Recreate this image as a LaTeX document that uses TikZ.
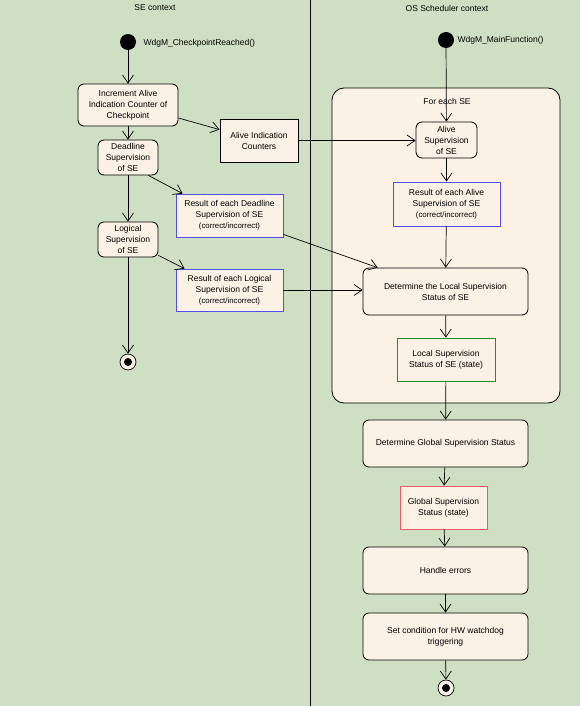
\documentclass[tikz,border=0pt]{standalone}
\usepackage{fontspec}
\setmainfont{Liberation Sans}
\usepackage{tikz}
\usetikzlibrary{arrows.meta}

\definecolor{lanegreen}{RGB}{207,223,196}
\definecolor{cream}{RGB}{251,241,228}
\definecolor{resblue}{RGB}{80,80,240}
\definecolor{stgreen}{RGB}{40,140,40}
\definecolor{stred}{RGB}{240,90,90}

\tikzset{
    action/.style={draw, line width=0.8pt, fill=cream, rounded corners=6pt, align=center, inner sep=1pt},
    datum/.style={draw, line width=0.8pt, fill=cream, align=center, inner sep=1pt},
    initial/.style={circle, fill=black, inner sep=0pt, minimum size=16pt},
    final/.style={circle, draw, line width=0.7pt, fill=cream, inner sep=0pt, minimum size=16pt,
        path picture={\fill[black] (path picture bounding box.center) circle (4pt);}},
    flow/.style={-{Straight Barb[length=8pt,width=11pt]}, line width=0.7pt}
}

\begin{document}
\begin{tikzpicture}[x=1pt, y=-1pt, font=\fontsize{8.5}{11}\selectfont]
        \fill[lanegreen] (0,0) rectangle (580,706);
        \useasboundingbox (0,0) rectangle (580,706);
        \draw[line width=0.8pt] (310,0) -- (310,706);

        \node (lse) at (155,8) {SE context};
        \node (los) at (447,8) {OS Scheduler context};

        % SE context
        \node[initial] (s1) at (128,42) {};
        \node[anchor=west] (s1lab) at (140,43) {WdgM\_CheckpointReached()};
        \node[action, minimum width=100pt, minimum height=42pt] (inc) at (128,105) {Increment Alive\\Indication Counter of\\Checkpoint};
        \node[action, minimum width=60pt, minimum height=35pt] (dl) at (128,157.5) {Deadline\\Supervision\\of SE};
        \node[action, minimum width=60pt, minimum height=35pt] (lg) at (128,239.5) {Logical\\Supervision\\of SE};
        \node[final] (f1) at (128,362) {};
        \node[datum, minimum width=78pt, minimum height=43pt] (cnt) at (259,140.5) {Alive Indication\\Counters};
        \node[datum, draw=resblue, minimum width=107pt, minimum height=43pt] (resdl) at (229.5,215.5) {Result of each Deadline\\Supervision of SE\\ {\fontsize{7.8}{10}\selectfont(correct/incorrect)}};
        \node[datum, draw=resblue, minimum width=107pt, minimum height=42pt] (reslg) at (229.5,290) {Result of each Logical\\Supervision of SE\\ {\fontsize{7.8}{10}\selectfont(correct/incorrect)}};

        % OS Scheduler context
        \node[initial] (s2) at (446,40) {};
        \node[anchor=west] (s2lab) at (454,40) {WdgM\_MainFunction()};
        \node[draw, line width=0.8pt, fill=cream, rounded corners=12pt, minimum width=228pt, minimum height=315pt] (forse) at (446,245.5) {};
        \node (forlab) at (447,101) {For each SE};
        \node[action, minimum width=61pt, minimum height=36pt] (alv) at (446.5,140) {Alive\\Supervision\\of SE};
        \node[datum, draw=resblue, minimum width=107pt, minimum height=44pt] (resal) at (446.5,204) {Result of each Alive\\Supervision of SE\\ {\fontsize{7.8}{10}\selectfont(correct/incorrect)}};
        \node[action, minimum width=165pt, minimum height=47pt] (detl) at (445.5,291.5) {Determine the Local Supervision\\Status of SE};
        \node[datum, draw=stgreen, minimum width=98pt, minimum height=43pt] (locst) at (446,359.5) {Local Supervision\\Status of SE (state)};
        \node[action, minimum width=165pt, minimum height=47pt] (detg) at (445.5,443.5) {Determine Global Supervision Status};
        \node[datum, draw=stred, minimum width=87pt, minimum height=43pt] (glob) at (443.5,507.5) {Global Supervision\\Status (state)};
        \node[action, minimum width=165pt, minimum height=47pt] (hand) at (445.5,570.5) {Handle errors};
        \node[action, minimum width=165pt, minimum height=47pt] (setc) at (445.5,636.5) {Set condition for HW watchdog\\triggering};
        \node[final] (f2) at (446,688) {};

        \draw[flow] (s1) -- (inc);
        \draw[flow] (inc) -- (dl);
        \draw[flow] ([yshift=-13pt]inc.east) -- ([yshift=-11pt]cnt.north west);
        \draw[flow] (dl) -- (lg);
        \draw[flow] ([xshift=-10pt]dl.south east) -- ([xshift=7pt]resdl.north west);
        \draw[flow] ([yshift=2pt]lg.south east) -- ([xshift=9pt]reslg.north west);
        \draw[flow] (lg) -- (f1);
        \draw[flow] (cnt.east) -- (alv.west |- cnt.east);
        \draw[flow] ([yshift=3pt]resdl.south east) -- ([xshift=15pt]detl.north west);
        \draw[flow] (reslg.east) -- (detl.west |- reslg.east);

        \draw[flow] (s2) -- (alv);
        \draw[flow] (alv) -- (resal);
        \draw[flow] (resal) -- (detl);
        \draw[flow] (detl) -- (locst);
        \draw[flow] (locst) -- (detg);
        \draw[flow] (detg) -- (glob);
        \draw[flow] (glob) -- (hand);
        \draw[flow] (hand) -- (setc);
        \draw[flow] (setc) -- (f2);
    \end{tikzpicture}
\end{document}
